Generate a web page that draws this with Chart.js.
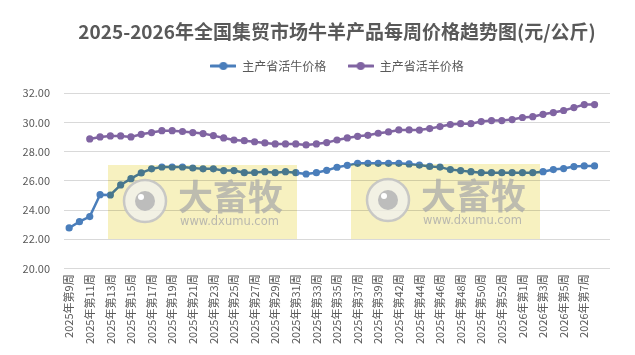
<!DOCTYPE html>
<html>
<head>
<meta charset="utf-8">
<script src="https://cdn.jsdelivr.net/npm/chart.js@4.4.1/dist/chart.umd.min.js"></script>
<style>
  html, body { margin: 0; padding: 0; background: #ffffff; }
  #wrap { width: 635px; height: 355px; position: relative; }
</style>
</head>
<body>
<div id="wrap"><canvas id="c" width="635" height="355"></canvas></div>
<script>
// ---- data ----
const weeks = [
  '2025年第9周','2025年第10周','2025年第11周','2025年第12周','2025年第13周','2025年第14周',
  '2025年第15周','2025年第16周','2025年第17周','2025年第18周','2025年第19周','2025年第20周',
  '2025年第21周','2025年第22周','2025年第23周','2025年第24周','2025年第25周','2025年第26周',
  '2025年第27周','2025年第28周','2025年第29周','2025年第30周','2025年第31周','2025年第32周',
  '2025年第33周','2025年第34周','2025年第35周','2025年第36周','2025年第37周','2025年第38周',
  '2025年第39周','2025年第41周','2025年第42周','2025年第43周','2025年第44周','2025年第45周',
  '2025年第46周','2025年第47周','2025年第48周','2025年第49周','2025年第50周','2025年第51周',
  '2025年第52周','2025年第53周','2026年第1周','2026年第2周','2026年第3周','2026年第4周',
  '2026年第5周','2026年第6周','2026年第7周','2026年第8周',''
];
const cattlePrice = [
  22.77, 23.20, 23.55, 25.05, 25.03, 25.72, 26.15, 26.54, 26.82, 26.95,
  26.95, 26.95, 26.88, 26.82, 26.82, 26.70, 26.70, 26.56, 26.57, 26.63,
  26.56, 26.63, 26.56, 26.47, 26.56, 26.72, 26.93, 27.06, 27.20, 27.20,
  27.20, 27.20, 27.20, 27.16, 27.08, 26.99, 26.94, 26.77, 26.70, 26.63,
  26.56, 26.56, 26.56, 26.56, 26.56, 26.56, 26.63, 26.77, 26.84, 26.98,
  27.02, 27.02, null
];
const sheepPrice = [
  null, null, 28.87, 29.01, 29.08, 29.08, 29.01, 29.19, 29.31, 29.44,
  29.44, 29.38, 29.31, 29.24, 29.10, 28.94, 28.80, 28.75, 28.68, 28.60,
  28.53, 28.53, 28.53, 28.46, 28.53, 28.62, 28.80, 28.94, 29.05, 29.12,
  29.26, 29.35, 29.49, 29.49, 29.48, 29.58, 29.72, 29.86, 29.92, 29.92,
  30.06, 30.13, 30.13, 30.20, 30.34, 30.40, 30.56, 30.68, 30.82, 31.02,
  31.23, 31.23, null
];
const seriesNames = ['主产省活牛价格', '主产省活羊价格'];
const chartTitle = '2025-2026年全国集贸市场牛羊产品每周价格趋势图(元/公斤)';
const yTicks = { min: 20, max: 32, step: 2 };

// ---- styles ----
const BLUE = '#4A7EBB';
const PURPLE = '#8064A2';
const GREY = '#595959';
const FONT = '"Noto Sans CJK SC", "Noto Sans", sans-serif';

function legendIcon(color) {
  const cv = document.createElement('canvas');
  cv.width = 26; cv.height = 10;
  const g = cv.getContext('2d');
  g.strokeStyle = color; g.lineWidth = 3; g.lineCap = 'round';
  g.beginPath(); g.moveTo(1, 5); g.lineTo(25, 5); g.stroke();
  g.fillStyle = color;
  g.beginPath(); g.arc(13, 5, 4, 0, Math.PI * 2); g.fill();
  return cv;
}

// extra gap between legend and plot area
const spacerPlugin = {
  id: 'legendSpacer',
  beforeInit(chart) {
    const box = {
      position: 'top', weight: 1, fullSize: false, options: {},
      left: 0, top: 0, right: 0, bottom: 0, width: 0, height: 0,
      isHorizontal() { return true; },
      update(maxWidth) { this.width = maxWidth; this.height = 11.3; },
      getPadding() { return { left: 0, right: 0, top: 0, bottom: 0 }; },
      draw() {}
    };
    Chart.layouts.addBox(chart, box);
  }
};

const watermarks = [
  { x: 108, y: 165, w: 189, h: 74 },
  { x: 351, y: 164, w: 189, h: 75 }
];

const watermarkPlugin = {
  id: 'watermark',
  afterDatasetsDraw(chart) {
    const ctx = chart.ctx;
    watermarks.forEach(wm => {
      ctx.save();
      ctx.globalCompositeOperation = 'multiply';
      ctx.fillStyle = 'rgb(247,241,192)';
      ctx.fillRect(wm.x, wm.y, wm.w, wm.h);
      ctx.restore();
      ctx.save();
      const cx = wm.x + 37, cy = wm.y + 36;
      ctx.beginPath(); ctx.arc(cx, cy, 21, 0, Math.PI * 2);
      ctx.fillStyle = 'rgba(240,240,240,0.75)'; ctx.fill();
      ctx.lineWidth = 2.5; ctx.strokeStyle = 'rgba(195,195,195,0.9)'; ctx.stroke();
      ctx.beginPath(); ctx.arc(cx, cy, 10, 0, Math.PI * 2);
      ctx.fillStyle = 'rgba(185,185,185,0.95)'; ctx.fill();
      ctx.beginPath(); ctx.arc(cx - 4, cy - 4, 3, 0, Math.PI * 2);
      ctx.fillStyle = '#ffffff'; ctx.fill();
      ctx.fillStyle = 'rgba(170,170,170,0.75)';
      ctx.textBaseline = 'middle'; ctx.textAlign = 'left';
      ctx.font = 'bold 35px ' + FONT;
      ctx.fillText('大畜牧', wm.x + 70, wm.y + 32);
      ctx.font = '11.5px "DejaVu Sans", sans-serif';
      ctx.fillStyle = 'rgba(170,170,170,0.8)';
      ctx.fillText('www.dxumu.com', wm.x + 72, wm.y + 57);
      ctx.restore();
    });
  }
};

new Chart(document.getElementById('c'), {
  type: 'line',
  data: {
    labels: weeks,
    datasets: [
      {
        label: seriesNames[0], data: cattlePrice,
        borderColor: BLUE, backgroundColor: BLUE,
        borderWidth: 2.5, pointStyle: 'circle', pointRadius: 3.6, pointHoverRadius: 3.6,
        pointBackgroundColor: BLUE, pointBorderColor: BLUE, pointBorderWidth: 0,
        tension: 0, spanGaps: false
      },
      {
        label: seriesNames[1], data: sheepPrice,
        borderColor: PURPLE, backgroundColor: PURPLE,
        borderWidth: 2.5, pointStyle: 'circle', pointRadius: 3.6, pointHoverRadius: 3.6,
        pointBackgroundColor: PURPLE, pointBorderColor: PURPLE, pointBorderWidth: 0,
        tension: 0, spanGaps: false
      }
    ]
  },
  options: {
    responsive: false,
    animation: false,
    devicePixelRatio: 1,
    layout: { padding: { left: 23, right: 25, top: 0, bottom: 5 } },
    plugins: {
      tooltip: { enabled: false },
      title: {
        display: true, text: chartTitle, color: GREY, fullSize: false,
        font: { family: FONT, size: 19, weight: 'bold' },
        padding: { top: 20.6, bottom: -4.7 }
      },
      legend: {
        display: true, position: 'top', fullSize: false,
        labels: {
          color: GREY, font: { family: FONT, size: 12 },
          usePointStyle: true, pointStyleWidth: 26, padding: 21.3,
          generateLabels(chart) {
            return chart.data.datasets.map((ds, i) => ({
              text: ds.label, fillStyle: ds.borderColor, strokeStyle: ds.borderColor,
              pointStyle: legendIcon(ds.borderColor), lineWidth: 0, hidden: false,
              datasetIndex: i, fontColor: GREY
            }));
          }
        }
      }
    },
    scales: {
      x: {
        offset: true,
        grid: { display: false, drawTicks: false },
        border: { display: false },
        afterFit(scale) { scale.paddingLeft = 0; scale.paddingRight = 0; },
        ticks: {
          autoSkip: false, maxRotation: 90, minRotation: 90, padding: 6,
          color: GREY, font: { family: FONT, size: 11 },
          callback(v, i) { return i % 2 === 0 ? weeks[i] : ''; }
        }
      },
      y: {
        min: yTicks.min, max: yTicks.max,
        grid: { color: '#D9D9D9', lineWidth: 1, drawTicks: false },
        border: { display: false },
        afterFit(scale) { scale.width = 41; },
        ticks: {
          stepSize: yTicks.step, padding: 14, color: GREY,
          font: { family: FONT, size: 11 },
          callback(v) { return Number(v).toFixed(2); }
        }
      }
    }
  },
  plugins: [spacerPlugin, watermarkPlugin]
});
</script>
</body>
</html>
